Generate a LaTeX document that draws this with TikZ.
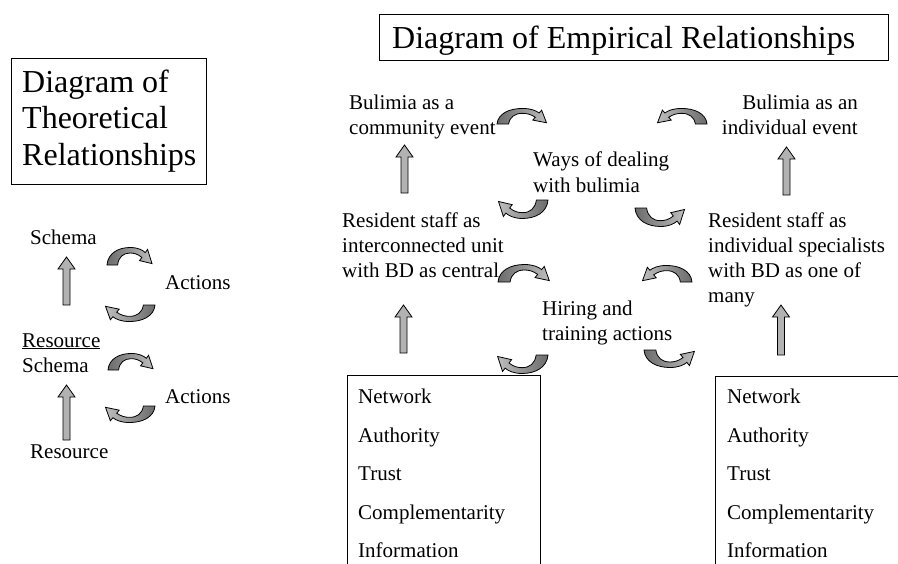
\documentclass[tikz,border=0pt]{standalone}
\usepackage{fontspec}
\setmainfont{Liberation Serif}
\definecolor{dk}{gray}{0.42}
\definecolor{lt}{gray}{0.74}
\tikzset{
  body/.style={font=\fontsize{21}{25}\selectfont, inner sep=0pt, align=left},
  bodyr/.style={font=\fontsize{21}{25}\selectfont, inner sep=0pt, align=right},
  ttl/.style={font=\fontsize{32}{36.5}\selectfont, inner sep=0pt, align=left},
  blockarrow/.style={draw=black, line width=0.8pt, fill=black!30},
  curvearrow/.style={draw=black, line width=0.8pt},
  frame/.style={draw=black, line width=0.8pt}
}
% the curved band (52 x 18 box), head at right pointing down-right
\newcommand\bandpath{\shade[curvearrow,left color=\bandleft,right color=\bandright] (0,18) .. controls (1,6) and (12,0.5) .. (24,0.5) .. controls (32,0.5) and (37,3) .. (39.8,5.6) -- (42.2,2.4) -- (46.8,16.6) -- (33.8,13.6) -- (36.2,10.4) .. controls (32,7) and (28,6) .. (24,6) .. controls (17,6) and (12,10) .. (11,18) -- cycle;}
% #1,#2 top-left; #3 width; #4 height
\newcommand\archR[4]{\begin{scope}[shift={(#1,#2)},xscale=#3/52,yscale=#4/18]\def\bandleft{dk}\def\bandright{lt}\bandpath\end{scope}}
\newcommand\archL[4]{\begin{scope}[shift={(#1+#3,#2)},xscale=-#3/52,yscale=#4/18]\def\bandleft{lt}\def\bandright{dk}\bandpath\end{scope}}
\newcommand\cupL[4]{\begin{scope}[shift={(#1+#3,#2+#4)},xscale=-#3/52,yscale=-#4/18]\def\bandleft{lt}\def\bandright{dk}\bandpath\end{scope}}
\newcommand\cupR[4]{\begin{scope}[shift={(#1,#2+#4)},xscale=#3/52,yscale=-#4/18]\def\bandleft{dk}\def\bandright{lt}\bandpath\end{scope}}
% straight block arrow pointing up: centre x, top y, bottom y
\newcommand\uparr[3]{\draw[blockarrow] (#1-3.5,#3) -- (#1-3.5,#2+12) -- (#1-8.5,#2+12) -- (#1,#2) -- (#1+8.5,#2+12) -- (#1+3.5,#2+12) -- (#1+3.5,#3) -- cycle;}
\begin{document}
\begin{tikzpicture}[x=1pt,y=-1pt]
\useasboundingbox (0,0) rectangle (898,563);

% ---------- left: theoretical ----------
\draw[frame] (11.5,58.5) rectangle (206,184.5);
\node[ttl,anchor=base west] (tt1) at (22,92) {Diagram of};
\node[ttl,anchor=base west] (tt2) at (22,128.5) {Theoretical};
\node[ttl,anchor=base west] (tt3) at (22,165) {Relationships};

\node[body,anchor=base west] (sch1) at (30,244) {Schema};
\node[body,anchor=base west] (act1) at (165,289) {Actions};
\node[body,anchor=base west] (res1) at (22,347) {\underline{Resource}};
\node[body,anchor=base west] (sch2) at (22,372) {Schema};
\node[body,anchor=base west] (act2) at (165,403) {Actions};
\node[body,anchor=base west] (res2) at (30,458) {Resource};

\uparr{66.5}{257}{305}
\uparr{66.5}{385}{440}
\archR{107}{247}{50}{18}
\cupL{100}{305}{55}{17}
\archR{108}{353}{50}{17}
\cupL{100}{406}{55}{17}

% ---------- right: empirical ----------
\draw[frame] (379,14) rectangle (888,60);
\node[ttl,anchor=base west] (te) at (392,48) {Diagram of Empirical Relationships};

\node[body,anchor=base west] (bc) at (349,134) {Bulimia as a\\community event};
\node[bodyr,anchor=base east] (bi) at (858,134) {Bulimia as an\\individual event};
\node[body,anchor=base west,font=\fontsize{21}{26}\selectfont] (ways) at (533,192) {Ways of dealing\\with bulimia};
\node[body,anchor=base west] (rs1) at (342,277) {Resident staff as\\interconnected unit\\with BD as central};
\node[body,anchor=base west] (rs2) at (708,302) {Resident staff as\\individual specialists\\with BD as one of\\many};
\node[body,anchor=base west] (hire) at (542,340) {Hiring and\\training actions};

\uparr{404.5}{145}{193}
\uparr{403.5}{305}{353}
\uparr{786.5}{147}{195}
\uparr{781}{305}{355}

\archR{497}{108}{55}{16}
\cupL{493}{200}{55}{19}
\archR{498}{264}{57}{18}
\cupL{492}{355}{56}{19}
\archL{652}{108}{55}{16}
\cupR{635}{208}{55}{19}
\archL{637}{265}{55}{17}
\cupR{644}{350}{56}{18}

% lists
\draw[frame] (347,564) -- (347,375.5) -- (540,375.5) -- (540,564);
\draw[frame] (899,376.5) -- (715,376.5) -- (715,564);
\foreach \t/\y [count=\i] in {Network/403, Authority/442, Trust/480, Complementarity/519, Information/557}{
  \node[body,anchor=base west] (la\i) at (358,\y) {\t};
  \node[body,anchor=base west] (lb\i) at (727,\y) {\t};
}
\end{tikzpicture}
\end{document}
